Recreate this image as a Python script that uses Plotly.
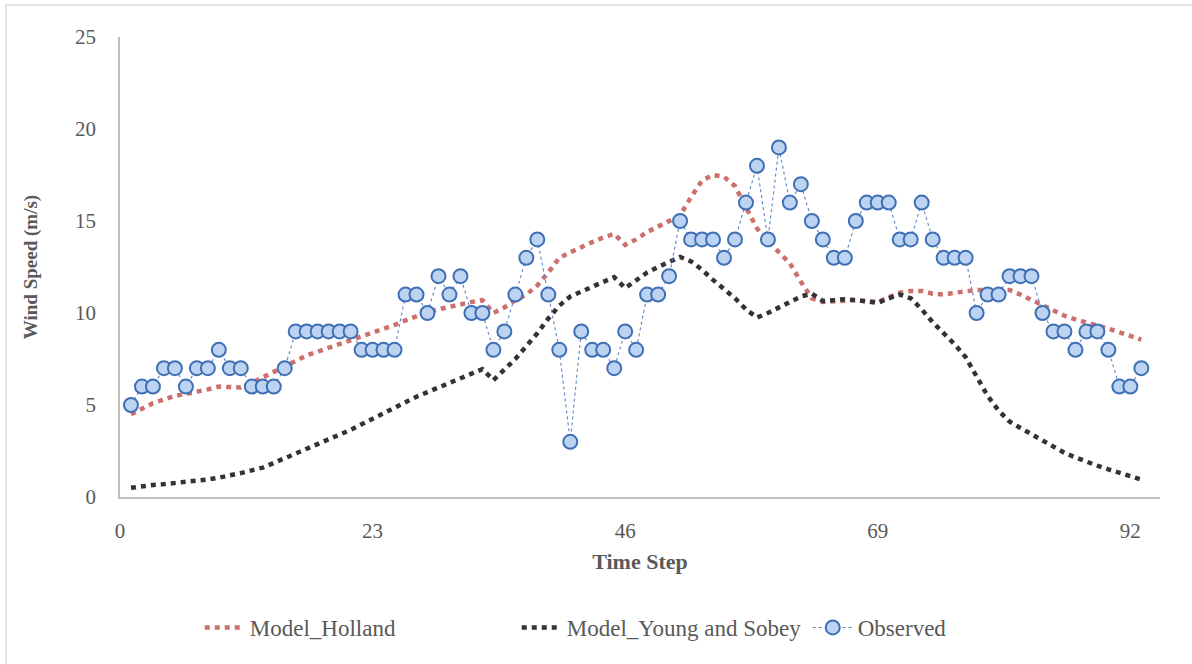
import plotly.graph_objects as go

# Time steps 1..93
time_step = list(range(1, 94))

observed = [
    5, 6, 6, 7, 7, 6, 7, 7, 8, 7,
    7, 6, 6, 6, 7, 9, 9, 9, 9, 9,
    9, 8, 8, 8, 8, 11, 11, 10, 12, 11,
    12, 10, 10, 8, 9, 11, 13, 14, 11, 8,
    3, 9, 8, 8, 7, 9, 8, 11, 11, 12,
    15, 14, 14, 14, 13, 14, 16, 18, 14, 19,
    16, 17, 15, 14, 13, 13, 15, 16, 16, 16,
    14, 14, 16, 14, 13, 13, 13, 10, 11, 11,
    12, 12, 12, 10, 9, 9, 8, 9, 9, 8,
    6, 6, 7,
]

model_holland = [
    4.5, 4.8, 5.1, 5.3, 5.5, 5.6, 5.7, 5.85, 6.0, 6.0,
    5.95, 6.2, 6.5, 6.8, 7.1, 7.4, 7.7, 7.9, 8.1, 8.3,
    8.5, 8.7, 8.9, 9.1, 9.35, 9.6, 9.85, 10.05, 10.2, 10.35,
    10.5, 10.6, 10.7, 10.0, 10.3, 10.7, 11.0, 11.5, 12.2, 13.0,
    13.3, 13.6, 13.85, 14.1, 14.3, 13.7, 14.0, 14.4, 14.7, 15.0,
    15.3, 16.3, 17.2, 17.5, 17.4, 16.9, 15.8, 14.6, 13.9, 13.3,
    12.7, 11.7, 10.8, 10.6, 10.65, 10.7, 10.7, 10.65, 10.6, 10.85,
    11.1, 11.2, 11.2, 11.05, 11.0, 11.1, 11.2, 11.25, 11.25, 11.25,
    11.25, 11.0, 10.7, 10.4, 10.1, 9.85, 9.65, 9.5, 9.3, 9.15,
    8.95, 8.75, 8.55,
]

model_young_sobey = [
    0.5, 0.6, 0.65, 0.7, 0.75, 0.8, 0.88, 0.95, 1.05, 1.15,
    1.3, 1.45, 1.6, 1.85, 2.1, 2.35, 2.6, 2.85, 3.1, 3.35,
    3.65, 3.95, 4.25, 4.55, 4.9, 5.2, 5.45, 5.7, 5.95, 6.2,
    6.45, 6.75, 6.95, 6.35, 6.9, 7.5, 8.2, 8.9, 9.7, 10.4,
    10.9, 11.15, 11.4, 11.7, 11.95, 11.35, 11.8, 12.2, 12.5, 12.8,
    13.05, 12.8, 12.35, 11.8, 11.3, 10.8, 10.2, 9.75, 10.0, 10.3,
    10.6, 10.9, 11.05, 10.65, 10.7, 10.75, 10.7, 10.65, 10.55, 10.8,
    11.0, 10.8, 10.2, 9.5, 8.9, 8.3, 7.6, 6.6, 5.5, 4.7,
    4.1, 3.75, 3.4, 3.05, 2.7, 2.4, 2.15, 1.9, 1.7, 1.5,
    1.3, 1.1, 0.95,
]

x_ticks = [0, 23, 46, 69, 92]
y_ticks = [0, 5, 10, 15, 20, 25]

FONT = "Liberation Serif"
TEXT_GREY = "#595959"
AXIS_GREY = "#BFBFBF"

fig = go.Figure()

fig.add_trace(go.Scatter(
    x=time_step, y=model_holland, name="Model_Holland", mode="lines",
    line=dict(color="#CD6F6C", width=4.5, dash="5px,5px"),
    legendwidth=262,
))
fig.add_trace(go.Scatter(
    x=time_step, y=model_young_sobey, name="Model_Young and Sobey", mode="lines",
    line=dict(color="#333333", width=4.5, dash="5px,5px"),
    legendwidth=236,
))
fig.add_trace(go.Scatter(
    x=time_step, y=observed, name="Observed", mode="lines+markers",
    line=dict(color="#5B84C4", width=1.1, dash="dot"),
    marker=dict(size=14, color="#BCD3F2",
                line=dict(color="#3F6FB5", width=2)),
))

fig.update_layout(
    width=1192, height=664,
    margin=dict(l=120, r=32, t=37, b=167),
    paper_bgcolor="white", plot_bgcolor="white",
    font=dict(family=FONT, color=TEXT_GREY, size=21),
    showlegend=True,
    legend=dict(
        orientation="h", xref="container", x=0.483, xanchor="center",
        yref="container", y=0.055, yanchor="middle",
        font=dict(family=FONT, size=23, color=TEXT_GREY),
        itemwidth=40, tracegroupgap=0,
    ),
    xaxis=dict(
        range=[0, 94.7], tickvals=x_ticks, ticktext=[str(v) for v in x_ticks],
        showgrid=False, zeroline=False, showline=True,
        linecolor=AXIS_GREY, linewidth=1.5, ticks="",
        ticklabelstandoff=14,
        tickfont=dict(family=FONT, size=21, color=TEXT_GREY),
        title=dict(text="<b>Time Step</b>", standoff=12,
                   font=dict(family=FONT, size=22, color=TEXT_GREY)),
    ),
    yaxis=dict(
        range=[0, 25], tickvals=y_ticks,
        showgrid=False, zeroline=False, showline=True,
        linecolor=AXIS_GREY, linewidth=1.5, ticks="",
        ticklabelstandoff=18,
        tickfont=dict(family=FONT, size=21, color=TEXT_GREY),
        title=dict(text="<b>Wind Speed (m/s)</b>", standoff=32,
                   font=dict(family=FONT, size=19, color=TEXT_GREY)),
    ),
    shapes=[dict(
        type="rect", xref="paper", yref="paper",
        x0=-0.1096, x1=1.04, y0=-0.5, y1=1.0696,
        line=dict(color="#D9D9D9", width=1.5), fillcolor="rgba(0,0,0,0)",
        layer="below",
    )],
)

fig.write_html("out.html")
